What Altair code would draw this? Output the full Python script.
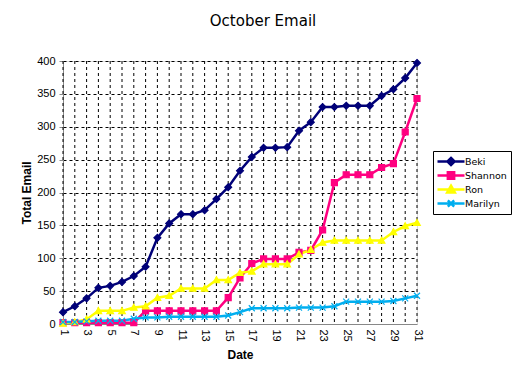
import altair as alt
import pandas as pd

days = list(range(1, 32))
label_days = list(range(1, 32, 2))
series_names = ["Beki", "Shannon", "Ron", "Marilyn"]
series_colors = ["#000078", "#FF0080", "#FFFF00", "#00AEEF"]

beki = [18, 27, 39, 55, 58, 64, 73, 87, 131, 153, 167, 167, 173, 190, 208, 233, 254, 268, 268, 269,
        294, 307, 330, 330, 332, 332, 332, 347, 357, 374, 397]
shannon = [2, 2, 2, 2, 2, 2, 2, 20, 20, 20, 20, 20, 20, 20, 40, 70, 92, 99, 99, 99,
           109, 112, 143, 215, 227, 227, 227, 238, 244, 292, 343]
ron = [1, 3, 7, 20, 20, 20, 25, 27, 40, 43, 54, 54, 54, 67, 67, 78, 80, 91, 91, 91,
       106, 113, 124, 127, 127, 127, 127, 127, 140, 149, 154]
marilyn = [3, 3, 4, 5, 5, 5, 8, 10, 10, 11, 11, 11, 11, 11, 13, 18, 24, 24, 24, 24,
           25, 25, 25, 27, 34, 34, 34, 34, 35, 39, 43]

values = {"Beki": beki, "Shannon": shannon, "Ron": ron, "Marilyn": marilyn}
rows = []
for name in series_names:
    for d, v in zip(days, values[name]):
        rows.append({"Date": d, "Total": v, "Series": name})
df = pd.DataFrame(rows)

DIAMOND = "M0,-1.15L1.15,0L0,1.15L-1.15,0Z"
SQUARE = "M-1,-1H1V1H-1Z"
TRIANGLE = "M0,-1.1L1.1,0.9H-1.1Z"
XCROSS = "M-1,-1L1,1M-1,1L1,-1"
marker_paths = [DIAMOND, SQUARE, TRIANGLE, XCROSS]

# legend symbols: line + small marker (unit = 4.5px at symbolSize 81)
leg_paths = [
    "M-3,0L3,0M0,-0.8L0.8,0L0,0.8L-0.8,0Z",
    "M-3,0L3,0M-0.7,-0.7H0.7V0.7H-0.7Z",
    "M-3,0L3,0M0,-0.85L0.85,0.65H-0.85Z",
    "M-3,0L3,0M-0.7,-0.7L0.7,0.7M-0.7,0.7L0.7,-0.7",
]
shape_expr = " : ".join(
    [f"datum.value === '{n}' ? '{p}'" for n, p in zip(series_names, leg_paths)]
) + " : 'stroke'"

color_scale = alt.Scale(domain=series_names, range=series_colors)
FONT = "DejaVu Sans"

x_axis = alt.Axis(
    values=label_days,
    labelAngle=90,
    labelAlign="left",
    labelBaseline="middle",
    labelPadding=5,
    labelOverlap=False,
    labelFlush=False,
    ticks=False,
    grid=False,
    title="Date",
    titleFontWeight="bold",
    titleFontSize=12,
    titlePadding=8,
    labelFontSize=11,
)
y_axis = alt.Axis(
    values=list(range(0, 401, 50)),
    tickSize=4,
    labelPadding=4,
    labelOverlap=False,
    labelFlush=False,
    title="Total Email",
    titleFontWeight="bold",
    titleFontSize=12,
    titlePadding=3,
    labelFontSize=11,
    grid=True,
    gridColor="black",
    gridDash=[3, 3],
    gridOpacity=1,
    gridWidth=1,
)
x_scale = alt.Scale(domain=[1, 31], nice=False, zero=False)
y_scale = alt.Scale(domain=[0, 400], nice=False)

# vertical dashed grid at every day
vgrid = alt.Chart(pd.DataFrame({"Date": days})).mark_rule(
    color="black", strokeDash=[3, 3], strokeWidth=1
).encode(x=alt.X("Date:Q", scale=x_scale, axis=x_axis))

base = alt.Chart(df)

lines = base.mark_line(strokeWidth=2.5).encode(
    x=alt.X("Date:Q", scale=x_scale, axis=x_axis),
    y=alt.Y("Total:Q", scale=y_scale, axis=y_axis),
    color=alt.Color(
        "Series:N",
        scale=color_scale,
        sort=series_names,
        legend=alt.Legend(
            title=None,
            orient="none",
            legendX=370,
            legendY=90,
            strokeColor="black",
            padding=4,
            symbolSize=81,
            symbolOffset=8,
            symbolStrokeWidth=2.5,
            symbolType=alt.ExprRef(shape_expr),
            symbolFillColor=alt.ExprRef("scale('color', datum.value)"),
            clipHeight=13,
            labelFontSize=9.5,
            labelFont=FONT,
            labelColor="black",
            rowPadding=1,
            labelOffset=8,
        ),
    ),
    order="Date:Q",
)

point_layers = []
for name, col, shp in zip(series_names, series_colors, marker_paths):
    point_layers.append(
        base.transform_filter(alt.datum.Series == name)
        .mark_point(shape=shp, filled=True, size=36, fill=col, stroke=col, strokeWidth=1.2, opacity=1)
        .encode(
            x=alt.X("Date:Q", scale=x_scale, axis=x_axis),
            y=alt.Y("Total:Q", scale=y_scale, axis=y_axis),
        )
    )

chart = (
    alt.layer(vgrid, lines, *point_layers)
    .properties(
        width=354,
        height=263,
        padding={"left": 55, "top": 53, "right": 100, "bottom": 45},
        autosize="none",
        title=alt.TitleParams(
            "October Email",
            fontSize=15,
            fontWeight="normal",
            font=FONT,
            anchor="middle",
            dx=23,
            offset=26,
            color="black",
        ),
    )
    .configure_view(stroke="black", strokeDash=[1, 2], strokeWidth=1)
    .configure_axis(
        domainColor="black",
        domainWidth=1,
        tickColor="black",
        labelColor="black",
        titleColor="black",
        labelFont=FONT,
        titleFont=FONT,
    )
    .configure(background="white")
)

chart.save("out.html", embed_options={"renderer": "svg", "actions": False})
